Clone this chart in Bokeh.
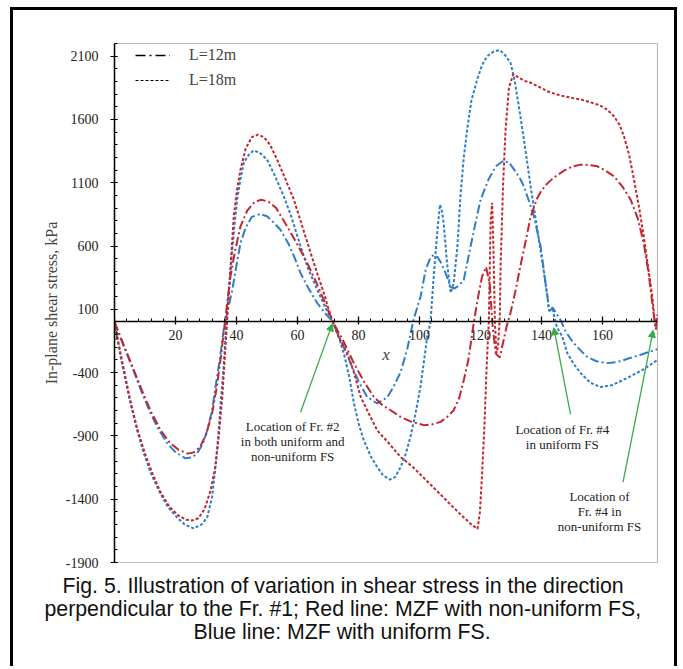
from bokeh.plotting import figure
from bokeh.models import (Range1d, FixedTicker, Legend, LegendItem, Arrow,
                          NormalHead, Label, Title, PrintfTickFormatter)
from bokeh.embed import file_html
from bokeh.resources import INLINE

# ---------------- data ----------------
# Blue dash-dot: L=12m, MZF with uniform FS
b12_x = [0, 3, 6.2, 9, 11.8, 14.5, 17.3, 20, 23.3, 25.5,
         27.1, 29, 30.4, 32, 33.1, 34.5, 35.8, 37, 38.6, 40,
         41.3, 43, 45, 47.7, 50, 52, 54.4, 57, 59, 61,
         63.5, 66.5, 69, 71.6, 74.5, 77.4, 80, 82.8, 86.1, 89.4,
         91.5, 93.8, 96, 98, 100.3, 102, 103.5, 104.6, 106, 107.2,
         108.5, 110.2, 111.5, 113, 114.5, 116.7, 118.5, 120, 122.6, 125,
         127.6, 129.5, 131, 132.8, 134.2, 135.8, 137.5, 139.7, 141.3, 142.4,
         143, 143.6, 144.5, 146.2, 148, 150.5, 153, 155, 158, 161.5,
         165, 169, 173, 178]
b12_y = [0, -190, -380, -560, -720, -850, -958, -1030, -1077, -1070,
         -1037, -960, -855, -700, -514, -300, -63, 80, 253, 450,
         623, 745, 830, 853, 835, 790, 729, 620, 510, 386,
         270, 148, 70, 0, -160, -325, -470, -591, -644, -595,
         -510, -395, -210, 16, 198, 412, 505, 530, 510, 460,
         388, 277, 265, 290, 333, 594, 800, 966, 1125, 1230,
         1275, 1255, 1204, 1140, 1072, 960, 834, 596, 306, 121,
         95, 115, 80, 16, -80, -166, -230, -277, -310, -325,
         -315, -285, -255, -214]

# Blue dotted: L=18m, MZF with uniform FS
b18_x = [0, 2, 5.2, 7.5, 9.6, 12, 15, 17.5, 20.5, 23,
         26, 28.5, 30.4, 32, 33, 34, 34.8, 35.7, 36.4, 36.9,
         37.8, 38.6, 39.4, 40.2, 41.3, 42.4, 44, 45.5, 47.5, 50,
         52.5, 55.5, 58, 61, 63.5, 66.5, 69, 71.6, 73.5, 75.2,
         77, 78.5, 80, 81.7, 84, 86.1, 88, 90.3, 92, 93.8,
         95.5, 97, 98.7, 100.3, 101.5, 102.5, 103.6, 104.4, 105.2, 106,
         106.7, 107.3, 107.9, 109, 110.2, 111.2, 112.4, 113.4, 114.5, 115.6,
         117, 118.9, 120.5, 122.2, 124.2, 126.3, 128, 129.8, 131, 132,
         133.1, 134.2, 135.3, 136.4, 137.5, 138.6, 139.7, 140.8, 141.9, 142.4,
         143, 143.6, 144.2, 145, 146.8, 148.4, 150.5, 152.8, 156, 159.3,
         163, 168, 173, 178]
b18_y = [0, -277, -641, -860, -1037, -1200, -1354, -1460, -1544, -1600,
         -1631, -1600, -1544, -1380, -1172, -900, -641, -380, -119, 95,
         330, 570, 780, 966, 1130, 1259, 1320, 1354, 1340, 1283,
         1160, 992, 830, 596, 420, 253, 120, 0, -120, -248,
         -440, -644, -800, -934, -1060, -1146, -1210, -1245, -1225, -1146,
         -1040, -908, -720, -512, -300, -116, 0, 280, 530, 760,
         927, 880, 784, 467, 230, 309, 596, 992, 1300, 1520,
         1750, 1916, 2030, 2100, 2135, 2148, 2110, 2048, 1930, 1784,
         1620, 1441, 1260, 1072, 900, 728, 560, 386, 200, 95,
         80, 115, 40, -40, -116, -245, -330, -404, -480, -514,
         -500, -443, -380, -300]

# Red dash-dot: L=12m, MZF with non-uniform FS
r12_x = [0, 3, 6, 9, 12, 15, 18, 21, 24, 26,
         28, 30, 32, 33.5, 35, 36.5, 38, 39.5, 41.3, 43.5,
         46, 48.1, 50.5, 53, 56.6, 60, 63.2, 66, 68.6, 71.6,
         75, 78.5, 82, 85, 88, 90.5, 93.8, 97, 101.4, 104,
         106.9, 109, 111.2, 113, 114.5, 116, 117.8, 119.2, 120.5, 121.8,
         123, 124, 125, 126.3, 127.5, 128.5, 129.8, 131.5, 133, 134.8,
         136.4, 138.6, 140, 141.9, 144, 147.3, 150, 152.8, 155.5, 158.3,
         161, 163.7, 166.5, 169.2, 171.5, 173.5, 175, 176.3, 177, 177.5,
         178]
r12_y = [0, -180, -360, -540, -710, -850, -950, -1010, -1040, -1030,
         -990, -890, -720, -520, -250, 60, 359, 560, 755, 880,
         950, 966, 950, 900, 755, 610, 465, 320, 174, 0,
         -150, -327, -480, -591, -660, -697, -750, -785, -815, -810,
         -789, -752, -697, -600, -459, -300, 0, 200, 360, 435,
         300, -50, -250, -280, -150, -40, 71, 250, 435, 640,
         831, 980, 1040, 1095, 1140, 1195, 1228, 1243, 1240, 1230,
         1195, 1151, 1070, 966, 820, 623, 400, 148, 20, -50,
         50]

# Red dotted: L=18m, MZF with non-uniform FS
r18_x = [0, 2, 5, 7.5, 10, 12.5, 15, 18, 21, 23.5,
         25.5, 27.5, 29.5, 31.5, 33, 34.2, 35.3, 36.5, 37.8, 39.1,
         40.2, 41.3, 43, 45, 47, 49, 51, 53.3, 56, 58.8,
         61.5, 64.3, 66.5, 68.6, 70.2, 71.6, 73.5, 76.3, 78.5, 80.7,
         83.5, 86.1, 90, 93.8, 98, 103, 108, 113, 117, 119,
         119.8, 120.5, 121.3, 122, 122.7, 123.3, 123.8, 124.2, 124.7, 125.2,
         125.7, 126.3, 126.6, 127.4, 128.2, 129.3, 130.7, 132.5, 134.5, 136.4,
         139, 141.9, 144.5, 147.3, 150, 152.8, 155.5, 158.3, 160, 161.5,
         163.7, 165.5, 167, 168.7, 170.3, 172, 173.5, 175, 176.3, 177,
         177.5, 178]
r18_y = [0, -250, -600, -850, -1040, -1200, -1340, -1460, -1530, -1562,
         -1568, -1550, -1480, -1330, -1150, -900, -600, -150, 350, 834,
         1050, 1204, 1370, 1460, 1480, 1460, 1400, 1283, 1130, 966,
         760, 546, 380, 230, 100, 0, -120, -248, -400, -591,
         -730, -855, -960, -1067, -1150, -1270, -1390, -1510, -1600, -1635,
         -1500, -1200, -800, -350, 0, 800, 942, 600, 0, -245,
         -200, 40, 465, 1100, 1520, 1850, 1956, 1930, 1905, 1890,
         1860, 1823, 1800, 1784, 1770, 1758, 1740, 1718, 1700, 1678,
         1626, 1560, 1467, 1320, 1124, 900, 675, 420, 200, 30,
         -60, 60]

x_ticks = [0, 20, 40, 60, 80, 100, 120, 140, 160]
y_ticks = [-1900, -1400, -900, -400, 100, 600, 1100, 1600, 2100]
legend_labels = ["L=12m", "L=18m"]

# annotation arrows: (x_start, y_start) -> (x_end, y_end) in data units
arrow_x0 = [61.0, 149.5, 166.7]
arrow_y0 = [-713, -730, -1265]
arrow_x1 = [71.4, 144.0, 176.6]
arrow_y1 = [-15, -45, -65]
note_texts = ["Location of Fr. #2\nin both uniform and\nnon-uniform FS",
              "Location of Fr. #4\nin uniform FS",
              "Location of\nFr. #4 in\nnon-uniform FS"]
note_x = [58.4, 146.8, 159.0]
note_y = [-770, -790, -1320]

caption_lines = ["Fig. 5. Illustration of variation in shear stress in the direction",
                 "perpendicular to the Fr. #1; Red line: MZF with non-uniform FS,",
                 "Blue line: MZF with uniform FS."]

for a, b in [(b12_x, b12_y), (b18_x, b18_y), (r12_x, r12_y), (r18_x, r18_y)]:
    assert len(a) == len(b), (len(a), len(b))

RED = "#C4262E"
BLUE = "#2F7DC6"
GREEN = "#3BAA4A"
SERIF = "Liberation Serif"
DASHDOT = "9 3 2 3"
DOTTED = "3 2"
NAN = float("nan")

W, H = 667, 659
p = figure(width=W, height=H, output_backend="svg", toolbar_location=None,
           x_range=Range1d(0, 178), y_range=Range1d(-1900, 2200),
           min_border_left=101, min_border_right=23, min_border_top=33,
           min_border_bottom=107, background_fill_color="white",
           border_fill_color="white")
p.styles = {"margin-left": "10px", "margin-top": "7px",
            "border-top": "3px solid black", "border-left": "3px solid black",
            "border-right": "3px solid black"}
p.xgrid.visible = False
p.ygrid.visible = False
p.outline_line_color = "#BBBBBB"
p.outline_line_width = 1.2

# curves
p.line(b18_x, b18_y, line_color=BLUE, line_width=2, line_dash=DOTTED)
p.line(b12_x, b12_y, line_color=BLUE, line_width=2, line_dash=DASHDOT)
p.line(r18_x, r18_y, line_color=RED, line_width=2, line_dash=DOTTED)
p.line(r12_x, r12_y, line_color=RED, line_width=2, line_dash=DASHDOT)

# axes
xa = p.xaxis[0]
xa.fixed_location = 0
xa.ticker = FixedTicker(ticks=x_ticks, minor_ticks=list(range(0, 179, 4)))
xa.axis_label = "x"
xa.axis_label_text_font = SERIF
xa.axis_label_text_font_style = "italic"
xa.axis_label_text_font_size = "17px"
xa.axis_label_standoff = 2
xa.major_label_text_font = SERIF
xa.major_label_text_font_size = "14px"
xa.major_label_text_color = "#222222"
xa.major_label_standoff = 5
xa.axis_line_width = 1.5
xa.major_tick_in = 5
xa.major_tick_out = 3
xa.minor_tick_in = 3
xa.minor_tick_out = 0
xa.major_tick_line_width = 1.3

ya = p.yaxis[0]
ya.ticker = FixedTicker(ticks=y_ticks, minor_ticks=list(range(-1900, 2201, 100)))
ya.formatter = PrintfTickFormatter(format="%d")
ya.axis_label = "In-plane shear stress, kPa"
ya.axis_label_text_font = SERIF
ya.axis_label_text_font_style = "normal"
ya.axis_label_text_font_size = "16px"
ya.axis_label_standoff = 3
ya.major_label_text_font = SERIF
ya.major_label_text_font_size = "14px"
ya.major_label_text_color = "#222222"
ya.major_label_standoff = 12
ya.axis_line_width = 1.5
ya.major_tick_in = 3
ya.major_tick_out = 4
ya.minor_tick_in = 3
ya.minor_tick_out = 0

# legend (black samples of the two line styles; the sample lines hold no data)
la = p.line([NAN], [NAN], line_color="black", line_width=1.6, line_dash="10 4 2 4")
lb = p.line([NAN], [NAN], line_color="black", line_width=1.2, line_dash="3 2")
legend = Legend(items=[LegendItem(label=legend_labels[0], renderers=[la]),
                       LegendItem(label=legend_labels[1], renderers=[lb])],
                location=(21, 472), margin=0, padding=0, spacing=5,
                glyph_width=35, glyph_height=20, label_height=20,
                label_standoff=19, border_line_color=None,
                background_fill_alpha=0, label_text_font=SERIF,
                label_text_font_size="16px")
p.add_layout(legend, "center")

# arrows and notes
for i in range(len(arrow_x0)):
    p.add_layout(Arrow(x_start=arrow_x0[i], y_start=arrow_y0[i],
                       x_end=arrow_x1[i], y_end=arrow_y1[i],
                       line_color=GREEN, line_width=1.3,
                       end=NormalHead(size=7, fill_color=GREEN, line_color=GREEN)))
    p.add_layout(Label(x=note_x[i], y=note_y[i], text=note_texts[i],
                       text_align="center", text_baseline="top",
                       text_font=SERIF, text_font_size="13px",
                       text_color="#222222", text_line_height=1.0))

# caption under the chart: one title per line, shifted so each is centred
cap_offsets = [-52, -70, 79]
cap_standoffs = [18, -23, 17]
for line, off, so in zip(caption_lines, cap_offsets, cap_standoffs):
    p.add_layout(Title(text=line, align="left", offset=off, standoff=so,
                       text_font="Liberation Sans", text_font_size="21.3px",
                       text_font_style="normal", text_color="#111111"),
                 "below")

open("out.html", "w").write(file_html(p, INLINE))
